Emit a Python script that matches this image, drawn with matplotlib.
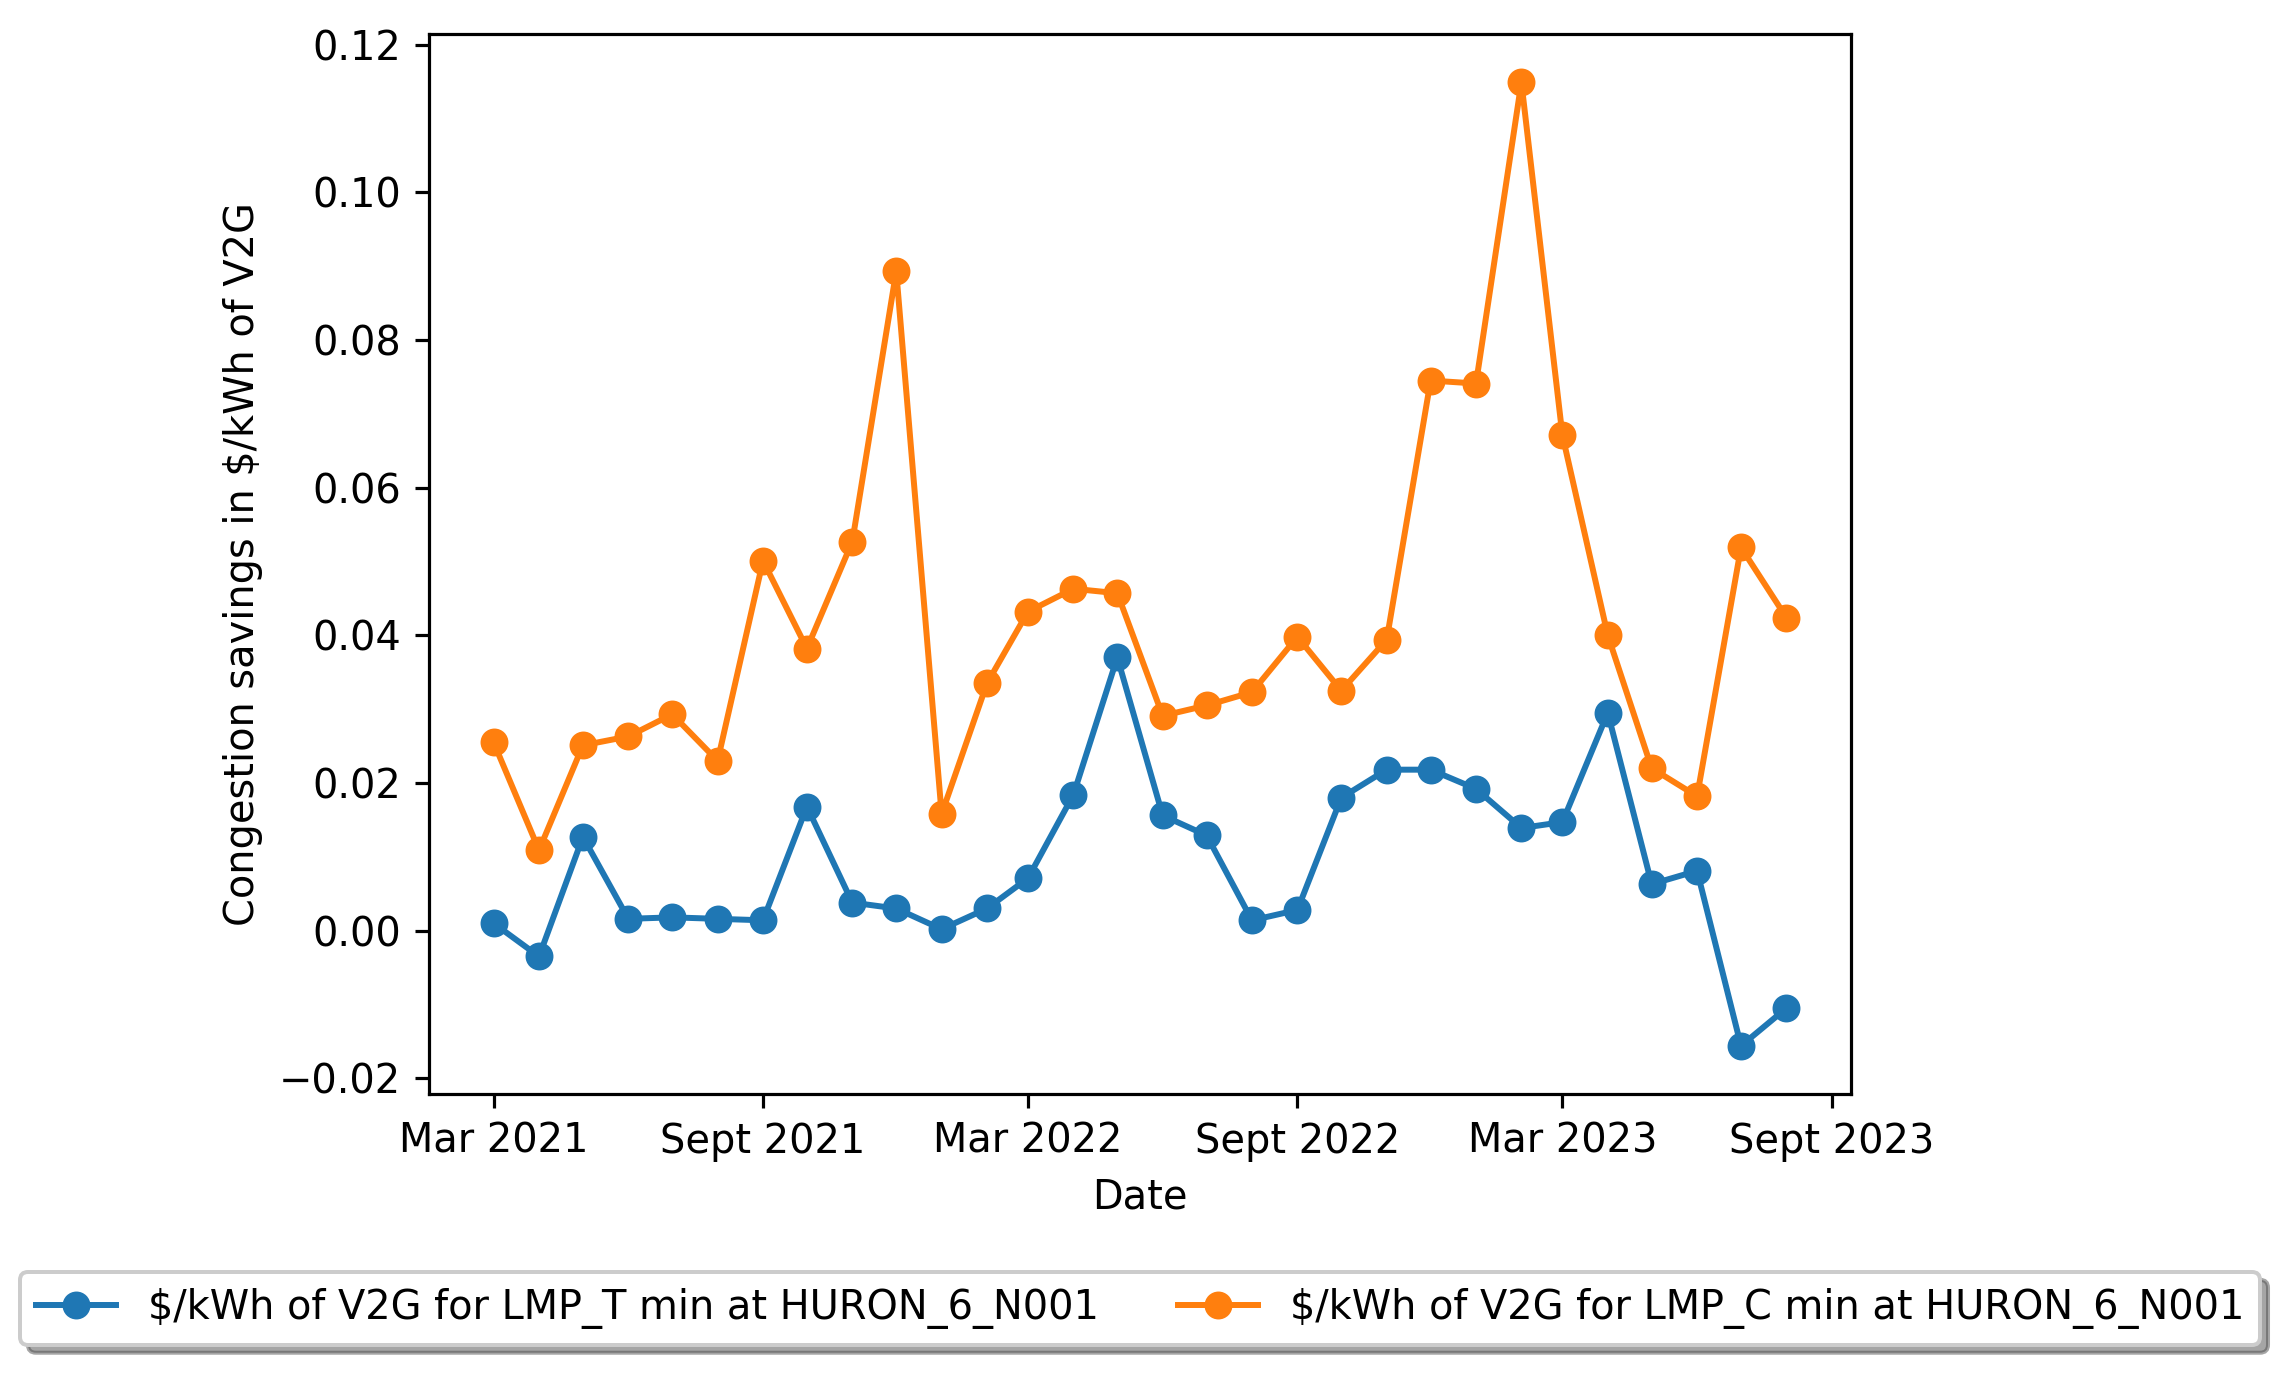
import matplotlib

matplotlib.use("Agg")
import matplotlib.pyplot as plt
import pandas as pd


dates = pd.date_range("2021-03-01", periods=30, freq="MS")

lmp_t = [
    0.0010, -0.0035, 0.0127, 0.0016, 0.0018, 0.0016, 0.0014, 0.0168, 0.0038, 0.0030,
    0.0002, 0.0030, 0.0071, 0.0184, 0.0370, 0.0156, 0.0129, 0.0014, 0.0028, 0.0180,
    0.0218, 0.0218, 0.0192, 0.0139, 0.0147, 0.0295, 0.0063, 0.0081, -0.0156, -0.0105,
]
lmp_c = [
    0.0255, 0.0109, 0.0251, 0.0263, 0.0293, 0.0230, 0.0501, 0.0382, 0.0527, 0.0893,
    0.0158, 0.0335, 0.0432, 0.0463, 0.0457, 0.0291, 0.0305, 0.0323, 0.0398, 0.0325,
    0.0394, 0.0745, 0.0741, 0.1149, 0.0671, 0.0400, 0.0220, 0.0182, 0.0519, 0.0424,
]

tick_dates = pd.to_datetime(
    ["2021-03-01", "2021-09-01", "2022-03-01", "2022-09-01", "2023-03-01", "2023-09-01"]
)
tick_labels = ["Mar 2021", "Sept 2021", "Mar 2022", "Sept 2022", "Mar 2023", "Sept 2023"]

DPI = 287


def main() -> None:
    fig = plt.figure(figsize=(2294 / DPI, 1385 / DPI), dpi=DPI)
    ax = fig.add_axes([0.1870, 0.2101, 0.6199, 0.7653])

    ax.plot(dates, lmp_t, marker="o", label="\\$/kWh of V2G for LMP_T min at HURON_6_N001")
    ax.plot(dates, lmp_c, marker="o", label="\\$/kWh of V2G for LMP_C min at HURON_6_N001")

    ax.set_xticks(tick_dates, tick_labels)
    ax.set_xlabel("Date")
    ax.set_ylabel("Congestion savings in \\$/kWh of V2G")

    ax.legend(loc="upper center", bbox_to_anchor=(0.5, -0.149), ncol=2, shadow=True)

    fig.savefig("out.png", dpi=DPI)
    plt.close(fig)


if __name__ == "__main__":
    main()
